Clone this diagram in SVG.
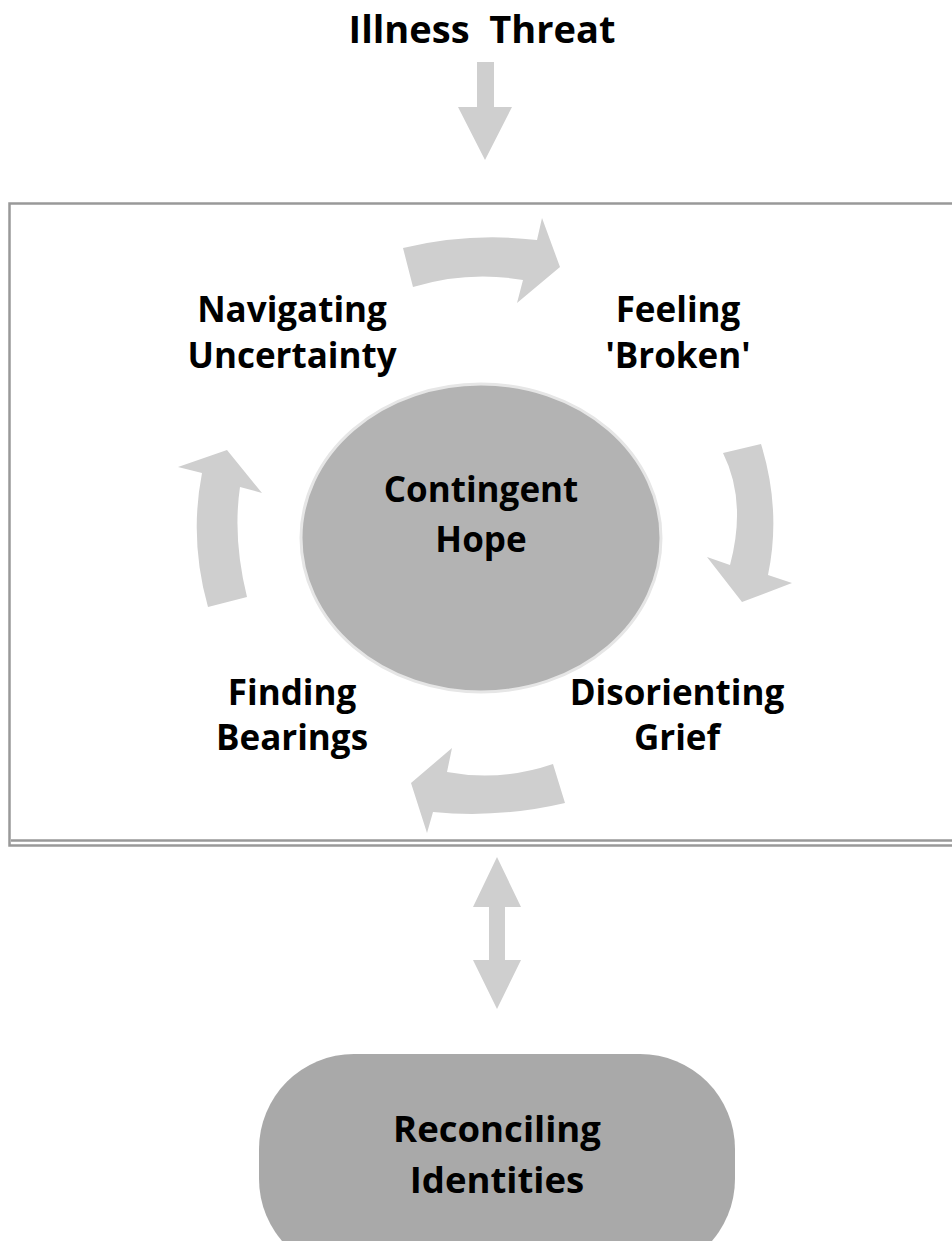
<svg xmlns="http://www.w3.org/2000/svg" width="952" height="1241" viewBox="0 0 952 1241">
<style>
.t{font-family:"Open Sans","Noto Sans","Liberation Sans",sans-serif;font-weight:700;font-size:35px;fill:#000;text-anchor:middle}
.arr{fill:#cfcfcf;stroke:none}
</style>
<rect width="952" height="1241" fill="#fff"/>
<g id="frame">
<rect x="9.5" y="203.5" width="960" height="642" fill="none" stroke="#999" stroke-width="2.5"/>
<line x1="11" y1="840.5" x2="952" y2="840.5" stroke="#999" stroke-width="2.5"/>
</g>
<g id="connectors">
<path class="arr" d="M477,62 L494,62 L494,107 L512,107 L485,160 L458,107 L477,107 Z"/>
<path class="arr" d="M403,248 Q470,232 537,240 L542,218 L560,267 L517,303 L523,280 Q468,270.5 413,287 Z"/>
<path class="arr" d="M723,453 L761,444 Q781.5,510.5 768,575 L792,583 L742,602 L707,557 L730,565 Q747,501 723,453 Z"/>
<path class="arr" d="M553,764 L565,803 Q499,818.5 433,812 L427,833 L411,783 L452,748 L447,772 Q500,782 553,764 Z"/>
<path class="arr" d="M208,607 L247,597 Q232.5,538 240,487 L262,493 L227,450 L178,467 L202,473 Q189,540 208,607 Z"/>
<path class="arr" d="M497,857 L521,907 L505,907 L505,960 L521,960 L497,1009 L473,960 L489,960 L489,907 L473,907 Z"/>
</g>
<g id="illness-threat"><text class="t" x="482" y="43" style="font-size:38px" xml:space="preserve">Illness  Threat</text></g>
<g id="navigating"><text class="t" x="292" y="322">Navigating</text><text class="t" x="292" y="368">Uncertainty</text></g>
<g id="feeling"><text class="t" x="678" y="322">Feeling</text><text class="t" x="678" y="368">'Broken'</text></g>
<g id="hope">
<ellipse cx="481" cy="538" rx="180" ry="154" fill="#b3b3b3" stroke="#e6e6e6" stroke-width="3"/>
<text class="t" x="481" y="502">Contingent</text><text class="t" x="481" y="552">Hope</text>
</g>
<g id="disorienting"><text class="t" x="677" y="705">Disorienting</text><text class="t" x="677" y="750">Grief</text></g>
<g id="finding"><text class="t" x="292" y="705">Finding</text><text class="t" x="292" y="750">Bearings</text></g>
<g id="reconciling">
<rect x="259" y="1054" width="476" height="220" rx="95" ry="95" fill="#a9a9a9"/>
<text class="t" x="497" y="1142" style="font-size:36.5px">Reconciling</text><text class="t" x="497" y="1193" style="font-size:36.5px">Identities</text>
</g>
</svg>
